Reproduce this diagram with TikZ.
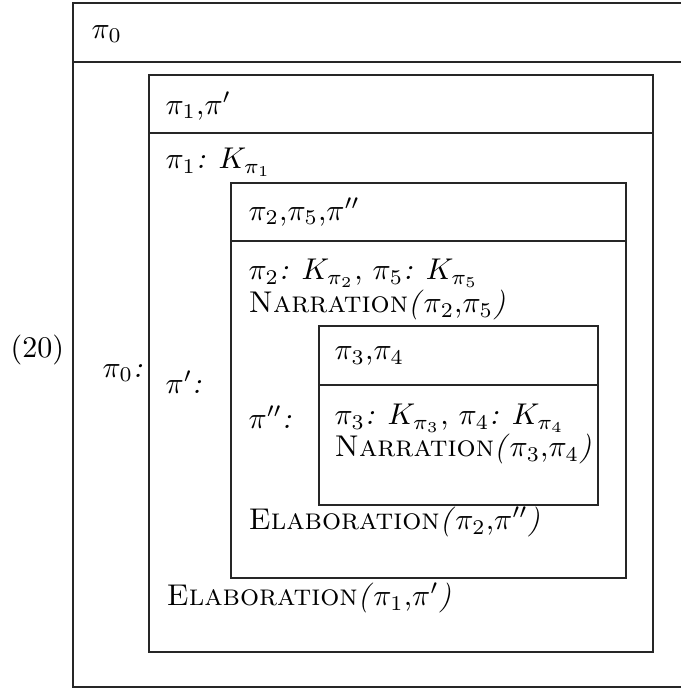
\documentclass[tikz,border=0pt]{standalone}
\begin{document}
\begin{tikzpicture}[x=0.3333pt,y=-0.3333pt,
  frame/.style={draw=black!85, line width=0.4pt},
  lbl/.style={anchor=west, inner sep=0pt, font=\fontsize{10}{12}\selectfont}]
\useasboundingbox (0,0) rectangle (681,690);
\clip (0,0) rectangle (681,690);
% outer box (right edge beyond the picture)
\draw[frame] (700,3) -- (73,3) -- (73,687) -- (700,687);
\draw[frame] (73,62) -- (700,62);
% box pi'
\draw[frame] (149,75) rectangle (653,652);
\draw[frame] (149,133) -- (653,133);
% box pi''
\draw[frame] (231,183) rectangle (626,578);
\draw[frame] (231,241) -- (626,241);
% box pi3 pi4
\draw[frame] (319,326) rectangle (598,505);
\draw[frame] (319,385) -- (598,385);
% texts
\node[lbl] (hdr0) at (91,34) {$\pi_0$};
\node[lbl] (num) at (10,350) {(20)};
\node[lbl] (l0) at (102,373) {$\pi_0$\textit{:}};
\node[lbl] (hdr1) at (165,106) {$\pi_1$,$\pi'$};
\node[lbl] (b1) at (165,162) {$\pi_1$\textit{:} $K_{\pi_1}$};
\node[lbl] (l1) at (165,382) {$\pi'$\textit{:}};
\node[lbl] (hdr2) at (248,212) {$\pi_2$,$\pi_5$,$\pi''$};
\node[lbl] (b2a) at (248,273) {$\pi_2$\textit{:} $K_{\pi_2}$, $\pi_5$\textit{:} $K_{\pi_5}$};
\node[lbl] (b2b) at (248,305) {\textsc{Narration}\textit{(}$\pi_2$,$\pi_5$\textit{)}};
\node[lbl] (l2) at (248,417) {$\pi''$\textit{:}};
\node[lbl] (hdr3) at (334,356) {$\pi_3$,$\pi_4$};
\node[lbl] (b3a) at (334,418) {$\pi_3$\textit{:} $K_{\pi_3}$, $\pi_4$\textit{:} $K_{\pi_4}$};
\node[lbl] (b3b) at (334,449) {\textsc{Narration}\textit{(}$\pi_3$,$\pi_4$\textit{)}};
\node[lbl] (e2) at (248,522) {\textsc{Elaboration}\textit{(}$\pi_2$,$\pi''$\textit{)}};
\node[lbl] (e1) at (166,598) {\textsc{Elaboration}\textit{(}$\pi_1$,$\pi'$\textit{)}};
\end{tikzpicture}
\end{document}
